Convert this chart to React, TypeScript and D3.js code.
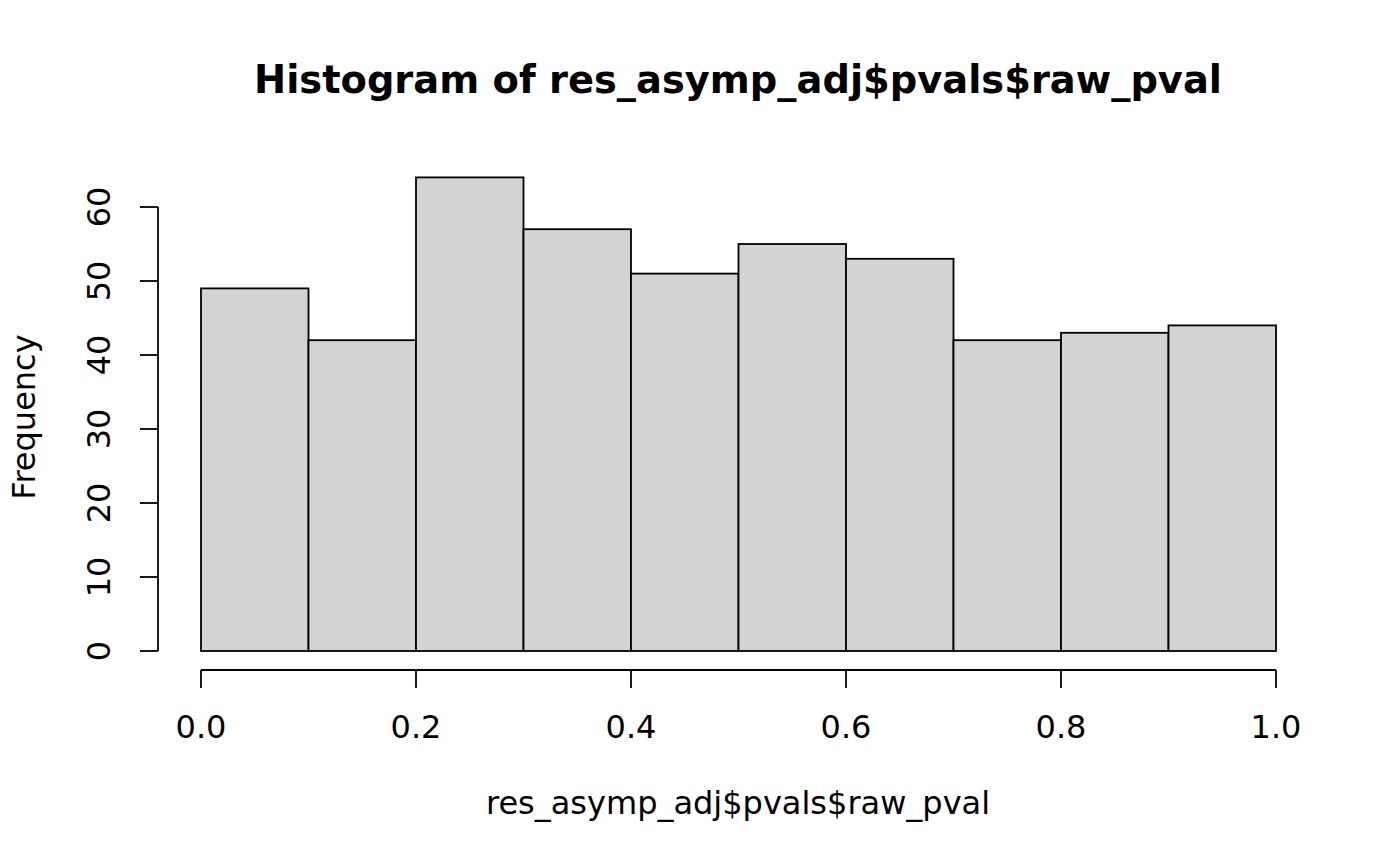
import * as d3 from 'd3';

// histogram bins (breaks) and counts
const breaks = [0, 0.1, 0.2, 0.3, 0.4, 0.5, 0.6, 0.7, 0.8, 0.9, 1.0];
const counts = [49, 42, 64, 57, 51, 55, 53, 42, 43, 44];
const xTicks = [0, 0.2, 0.4, 0.6, 0.8, 1.0];
const yTicks = [0, 10, 20, 30, 40, 50, 60];

const title = 'Histogram of res_asymp_adj$pvals$raw_pval';
const xLabel = 'res_asymp_adj$pvals$raw_pval';
const yLabel = 'Frequency';

export default function App() {
    const width = 1400;
    const height = 866;
    const font = 'DejaVu Sans, sans-serif';
    const fs = 32;

    const xScale = d3.scaleLinear().domain([0, 1]).range([201, 1276]);
    const yScale = d3.scaleLinear().domain([0, 60]).range([651, 207]);

    const xAxisY = 670;
    const yAxisX = 158;
    const tick = 18;
    const sw = 1.8;

    return (
        <svg
            width={width}
            height={height}
            style={{ position: 'absolute', left: 0, top: 0 }}
        >
            <rect width={width} height={height} fill="white" />
            <text
                x={738}
                y={93}
                textAnchor="middle"
                fontFamily={font}
                fontWeight="bold"
                fontSize={fs * 1.2}
            >
                {title}
            </text>

            {counts.map((c, i) => (
                <rect
                    key={i}
                    x={xScale(breaks[i])}
                    y={yScale(c)}
                    width={xScale(breaks[i + 1]) - xScale(breaks[i])}
                    height={yScale(0) - yScale(c)}
                    fill="#d3d3d3"
                    stroke="black"
                    strokeWidth={sw}
                />
            ))}

            {/* x axis */}
            <line
                x1={xScale(0)}
                x2={xScale(1)}
                y1={xAxisY}
                y2={xAxisY}
                stroke="black"
                strokeWidth={sw}
            />
            {xTicks.map((t) => (
                <g key={t}>
                    <line
                        x1={xScale(t)}
                        x2={xScale(t)}
                        y1={xAxisY}
                        y2={xAxisY + tick}
                        stroke="black"
                        strokeWidth={sw}
                    />
                    <text
                        x={xScale(t)}
                        y={738}
                        textAnchor="middle"
                        fontFamily={font}
                        fontSize={fs}
                    >
                        {d3.format('.1f')(t)}
                    </text>
                </g>
            ))}

            {/* y axis */}
            <line
                x1={yAxisX}
                x2={yAxisX}
                y1={yScale(0)}
                y2={yScale(60)}
                stroke="black"
                strokeWidth={sw}
            />
            {yTicks.map((t) => (
                <g key={t}>
                    <line
                        x1={yAxisX - tick}
                        x2={yAxisX}
                        y1={yScale(t)}
                        y2={yScale(t)}
                        stroke="black"
                        strokeWidth={sw}
                    />
                    <text
                        transform={`translate(110, ${yScale(t)}) rotate(-90)`}
                        textAnchor="middle"
                        fontFamily={font}
                        fontSize={fs}
                    >
                        {t}
                    </text>
                </g>
            ))}

            <text
                x={738}
                y={814}
                textAnchor="middle"
                fontFamily={font}
                fontSize={fs}
            >
                {xLabel}
            </text>
            <text
                transform={`translate(35, 417) rotate(-90)`}
                textAnchor="middle"
                fontFamily={font}
                fontSize={fs}
            >
                {yLabel}
            </text>
        </svg>
    );
}
